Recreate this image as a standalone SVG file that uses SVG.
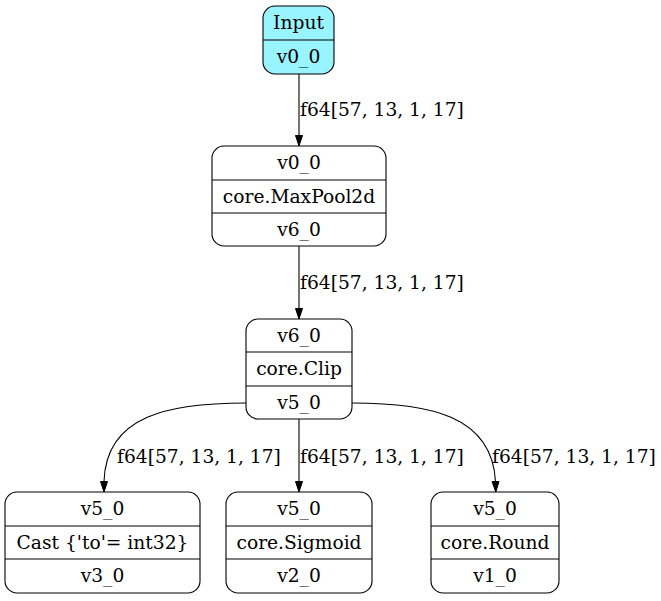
<svg xmlns="http://www.w3.org/2000/svg" width="661" height="601" viewBox="0 0 661 601">
  <style>
    text { font-family: "DejaVu Serif", "Liberation Serif", serif; font-size: 18.67px; fill: #000; }
    .c { text-anchor: middle; }
    .box { fill: #ffffff; stroke: #000; stroke-width: 1.1; }
    .input { fill: #98f5ff; }
    .sep { stroke: #000; stroke-width: 1.1; }
    .edge { fill: none; stroke: #000; stroke-width: 1.1; }
    .head { fill: #000; stroke: #000; stroke-width: 1; }
  </style>
  <rect width="661" height="601" fill="#ffffff"/>

  <!-- connectors -->
  <g id="edges">
    <path class="edge" d="M299,74 L299,135.5"/>
    <polygon class="head" points="295.5,135.5 302.5,135.5 299,146"/>
    <text x="300" y="116">f64[57, 13, 1, 17]</text>

    <path class="edge" d="M299,246 L299,308.5"/>
    <polygon class="head" points="295.5,308.5 302.5,308.5 299,319"/>
    <text x="300" y="289">f64[57, 13, 1, 17]</text>

    <path class="edge" d="M246,403 C170,403 106,415 104,481.5"/>
    <polygon class="head" points="100.5,481.5 107.5,481.5 104,492"/>
    <text x="117" y="463">f64[57, 13, 1, 17]</text>

    <path class="edge" d="M299,419 L299,481.5"/>
    <polygon class="head" points="295.5,481.5 302.5,481.5 299,492"/>
    <text x="300" y="463">f64[57, 13, 1, 17]</text>

    <path class="edge" d="M352,403 C428,403 492,415 495.5,481.5"/>
    <polygon class="head" points="492,481.5 499,481.5 495.8,492"/>
    <text x="492" y="463">f64[57, 13, 1, 17]</text>
  </g>

  <!-- nodes -->
  <g id="input">
    <rect class="box input" x="263" y="6" width="71" height="68" rx="12"/>
    <line class="sep" x1="263" y1="40" x2="334" y2="40"/>
    <text class="c" x="298.5" y="29">Input</text>
    <text class="c" x="298.5" y="63">v0_0</text>
  </g>

  <g id="maxpool">
    <rect class="box" x="212" y="146" width="174" height="100" rx="12"/>
    <line class="sep" x1="212" y1="180" x2="386" y2="180"/>
    <line class="sep" x1="212" y1="213" x2="386" y2="213"/>
    <text class="c" x="299" y="169">v0_0</text>
    <text class="c" x="299" y="202.5">core.MaxPool2d</text>
    <text class="c" x="299" y="235.5">v6_0</text>
  </g>

  <g id="clip">
    <rect class="box" x="246" y="319" width="106" height="100" rx="12"/>
    <line class="sep" x1="246" y1="352" x2="352" y2="352"/>
    <line class="sep" x1="246" y1="386" x2="352" y2="386"/>
    <text class="c" x="299" y="341.5">v6_0</text>
    <text class="c" x="299" y="375">core.Clip</text>
    <text class="c" x="299" y="408.5">v5_0</text>
  </g>

  <g id="cast">
    <rect class="box" x="5" y="492" width="195" height="101" rx="12"/>
    <line class="sep" x1="5" y1="526" x2="200" y2="526"/>
    <line class="sep" x1="5" y1="559" x2="200" y2="559"/>
    <text class="c" x="102.5" y="515">v5_0</text>
    <text class="c" x="102.5" y="548.5">Cast {'to'= int32}</text>
    <text class="c" x="102.5" y="582">v3_0</text>
  </g>

  <g id="sigmoid">
    <rect class="box" x="226" y="492" width="146" height="101" rx="12"/>
    <line class="sep" x1="226" y1="526" x2="372" y2="526"/>
    <line class="sep" x1="226" y1="559" x2="372" y2="559"/>
    <text class="c" x="299" y="515">v5_0</text>
    <text class="c" x="299" y="548.5">core.Sigmoid</text>
    <text class="c" x="299" y="582">v2_0</text>
  </g>

  <g id="round">
    <rect class="box" x="431" y="492" width="128" height="101" rx="12"/>
    <line class="sep" x1="431" y1="526" x2="559" y2="526"/>
    <line class="sep" x1="431" y1="559" x2="559" y2="559"/>
    <text class="c" x="495" y="515">v5_0</text>
    <text class="c" x="495" y="548.5">core.Round</text>
    <text class="c" x="495" y="582">v1_0</text>
  </g>
</svg>
